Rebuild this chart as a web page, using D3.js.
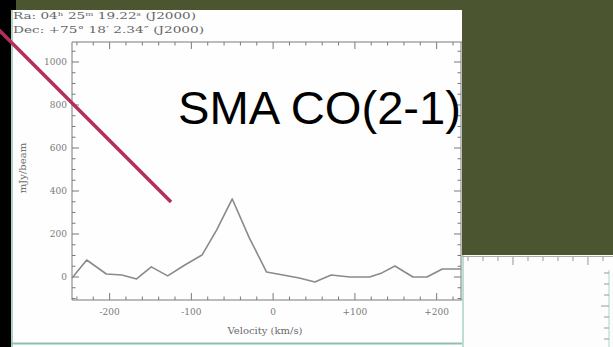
<!DOCTYPE html>
<html><head><meta charset="utf-8">
<script src="https://cdn.jsdelivr.net/npm/d3@7"></script>
<style>html,body{margin:0;padding:0;background:#4b5530;}svg{display:block;}</style>
</head><body>
<script>
// ---- data ----
const velocity = [-246, -228, -204, -185, -167, -149, -129, -108, -87, -69, -50, -29, -8, 12, 32, 51, 71, 94, 118, 133, 149, 171, 188, 207, 230];
const flux     = [-5, 79, 14, 9, -9, 47, 5, 56, 102, 219, 363, 181, 23, 9, -5, -23, 9, 0, 0, 19, 51, 0, 0, 37, 37];
const xTicks = [-200, -100, 0, 100, 200];
const xTickLabels = ["-200", "-100", "0", "+100", "+200"];
const yTicks = [0, 200, 400, 600, 800, 1000];
const yTickLabels = ["0", "200", "400", "600", "800", "1000"];
const headerLines = ["Ra: 04\u02B0 25\u1D50 19.22\u02E2 (J2000)", "Dec: +75\u00B0 18\u2032 2.34\u2033 (J2000)"];
const title = "SMA CO(2-1)";
const xLabel = "Velocity (km/s)";
const yLabel = "mJy/beam";

const W = 613, H = 347;
const svg = d3.select("body").append("svg").attr("width", W).attr("height", H);

// slide background
svg.append("rect").attr("width", W).attr("height", H).attr("fill", "#4b5530");
svg.append("rect").attr("x", 0).attr("y", 0).attr("width", 16).attr("height", 10).attr("fill", "#000");
svg.append("rect").attr("x", 0).attr("y", 10).attr("width", 11).attr("height", H - 10).attr("fill", "#000");

// second (cropped) plot image at bottom right
const p2 = svg.append("g");
p2.append("rect").attr("x", 462).attr("y", 255).attr("width", W - 462).attr("height", H - 255).attr("fill", "#fdfdfd");
p2.append("line").attr("x1", 463).attr("x2", 463).attr("y1", 255).attr("y2", H).attr("stroke", "#a9d3c4").attr("stroke-width", 1.5);
p2.append("line").attr("x1", 609).attr("x2", 609).attr("y1", 270).attr("y2", H).attr("stroke", "#b9dccf").attr("stroke-width", 1.2);
p2.append("line").attr("x1", 462).attr("x2", W).attr("y1", 256.5).attr("y2", 256.5).attr("stroke", "#aaa").attr("stroke-width", 1);
const x2 = d3.scaleLinear().domain([-3.4, 6.67]).range([462, 613]);
const y2 = d3.scaleLinear().domain([0, 6]).range([273, 339]);
p2.selectAll("line.t2").data(d3.range(-3, 7)).join("line")
  .attr("x1", d => x2(d)).attr("x2", d => x2(d))
  .attr("y1", 257).attr("y2", d => d % 5 === 0 ? 265 : 261)
  .attr("stroke", "#999").attr("stroke-width", 1);
p2.selectAll("line.r2").data(d3.range(0, 7)).join("line")
  .attr("x1", d => d === 3 ? 601 : 604).attr("x2", 609)
  .attr("y1", d => y2(d)).attr("y2", d => y2(d))
  .attr("stroke", "#999").attr("stroke-width", 1);

// main plot image panel
const panel = svg.append("g");
panel.append("rect").attr("x", 11).attr("y", 10).attr("width", 451).attr("height", H - 10).attr("fill", "#fefefe");
panel.append("line").attr("x1", 12).attr("x2", 12).attr("y1", 10).attr("y2", H).attr("stroke", "#a9d3c4").attr("stroke-width", 2);
panel.append("line").attr("x1", 11).attr("x2", 462).attr("y1", 343.5).attr("y2", 343.5).attr("stroke", "#8fc1af").attr("stroke-width", 2);

const serif = "'DejaVu Serif','Liberation Serif',serif";
const ink = "#7a7a7a";

// header coordinates
panel.selectAll("text.hdr").data(headerLines).join("text")
  .attr("x", 13).attr("y", (d, i) => 19 + i * 14)
  .attr("font-family", serif).attr("font-size", 10).attr("fill", "#666")
  .attr("textLength", (d, i) => i === 0 ? 183 : 191).attr("lengthAdjust", "spacingAndGlyphs")
  .text(d => d);

// scales
const x = d3.scaleLinear().domain([-246, 231]).range([72, 462]);
const y = d3.scaleLinear().domain([-107, 1093]).range([300, 42]);

const ax = panel.append("g").attr("stroke", ink).attr("stroke-width", 1).attr("fill", "none");
// frame
ax.append("line").attr("x1", 72).attr("x2", 72).attr("y1", y(1093)).attr("y2", y(-107));
ax.append("line").attr("x1", 72).attr("x2", 462).attr("y1", y(-107)).attr("y2", y(-107));
ax.append("line").attr("x1", 72).attr("x2", 462).attr("y1", y(1093)).attr("y2", y(1093));
ax.append("line").attr("x1", 461).attr("x2", 461).attr("y1", y(1093)).attr("y2", y(-107));

const xMinor = d3.range(-240, 231, 20);
const yMinor = d3.range(-100, 1093, 50);
// bottom & top ticks
[y(-107), y(1093)].forEach((yy, k) => {
  const dir = k === 0 ? -1 : 1;
  ax.selectAll(null).data(xMinor).join("line")
    .attr("x1", d => x(d)).attr("x2", d => x(d))
    .attr("y1", yy).attr("y2", d => yy + dir * (d % 100 === 0 ? 7 : 3.5));
});
// left & right ticks
[72, 461].forEach((xx, k) => {
  const dir = k === 0 ? 1 : -1;
  ax.selectAll(null).data(yMinor).join("line")
    .attr("y1", d => y(d)).attr("y2", d => y(d))
    .attr("x1", xx).attr("x2", d => xx + dir * (d % 200 === 0 ? 7 : 3.5));
});

// tick labels
panel.selectAll("text.xt").data(xTicks).join("text")
  .attr("x", d => x(d)).attr("y", 315).attr("text-anchor", "middle")
  .attr("font-family", serif).attr("font-size", 9).attr("fill", ink)
  .text((d, i) => xTickLabels[i]);
panel.selectAll("text.yt").data(yTicks).join("text")
  .attr("x", 67).attr("y", d => y(d) + 3).attr("text-anchor", "end")
  .attr("font-family", serif).attr("font-size", 9).attr("fill", ink)
  .text((d, i) => yTickLabels[i]);

// axis titles
panel.append("text").attr("x", 265).attr("y", 334).attr("text-anchor", "middle")
  .attr("font-family", serif).attr("font-size", 10).attr("fill", "#6a6a6a").text(xLabel);
panel.append("text").attr("transform", "translate(26,168) rotate(-90)").attr("text-anchor", "middle")
  .attr("font-family", serif).attr("font-size", 10).attr("fill", "#6a6a6a").text(yLabel);

// spectrum
const line = d3.line().x(d => x(d[0])).y(d => y(d[1]));
panel.append("path").datum(velocity.map((v, i) => [v, flux[i]]))
  .attr("d", line).attr("fill", "none").attr("stroke", "#8a8a8a").attr("stroke-width", 1.6)
  .attr("stroke-linejoin", "round");

// slide title
svg.append("text").attr("x", 178).attr("y", 124)
  .attr("font-family", "'Liberation Sans',Arial,sans-serif").attr("font-size", 46).attr("fill", "#000")
  .attr("textLength", 283).attr("lengthAdjust", "spacingAndGlyphs")
  .text(title);

// olive block covers title end (slide overlay)
svg.append("rect").attr("x", 462).attr("y", 0).attr("width", W - 462).attr("height", 255).attr("fill", "#4b5530");

// red pointer line
svg.append("line").attr("x1", -2).attr("y1", 29).attr("x2", 171).attr("y2", 202)
  .attr("stroke", "#b3305b").attr("stroke-width", 3.5);
</script>
</body></html>
